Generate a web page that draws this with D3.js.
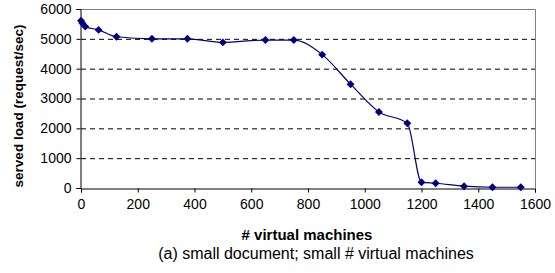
<!DOCTYPE html>
<html>
<head>
<meta charset="utf-8">
<script src="https://cdn.jsdelivr.net/npm/d3@7"></script>
<style>
  body { margin: 0; background: #fff; }
  text { font-family: "Liberation Sans", Arial, sans-serif; }
</style>
</head>
<body>
<svg id="chart" width="555" height="273"></svg>
<script>
// data
const vms = [0, 5, 15, 62, 125, 250, 375, 500, 650, 750, 850, 950, 1050, 1150, 1200, 1250, 1350, 1450, 1550]
const load = [5610, 5520, 5410, 5300, 5070, 5000, 5000, 4880, 4960, 4960, 4470, 3480, 2550, 2170, 190, 160, 60, 25, 25]
const xTicks = [0, 200, 400, 600, 800, 1000, 1200, 1400, 1600]
const yTicks = [0, 1000, 2000, 3000, 4000, 5000, 6000]

const svg = d3.select("#chart")
const mLeft = 81, mRight = 535, mTop = 9, mBottom = 188

const x = d3.scaleLinear().domain([0, 1600]).range([mLeft, mRight])
const y = d3.scaleLinear().domain([0, 6000]).range([mBottom, mTop])

// dashed gridlines
svg.append("g").selectAll("line").data(yTicks.filter(d => d > 0 && d < 6000)).enter()
    .append("line")
    .attr("x1", mLeft).attr("x2", mRight)
    .attr("y1", d => y(d) + 0.5).attr("y2", d => y(d) + 0.5)
    .attr("stroke", "#000").attr("stroke-dasharray", "5,4")

// top and right frame
svg.append("path")
    .attr("d", `M${mLeft},${mTop + 0.5}H${mRight + 0.5}V${mBottom}`)
    .attr("fill", "none").attr("stroke", "#808080")

// axes
const yAxis = d3.axisLeft(y).tickValues(yTicks).tickSize(4).tickPadding(5).tickFormat(d3.format("d"))
const xAxis = d3.axisBottom(x).tickValues(xTicks).tickSize(4).tickPadding(7).tickFormat(d3.format("d"))

const gy = svg.append("g").attr("transform", `translate(${mLeft - 0.5},0)`).call(yAxis)
const gx = svg.append("g").attr("transform", `translate(0,${mBottom + 0.5})`).call(xAxis)
;[gx, gy].forEach(g => {
    g.selectAll("path,line").attr("stroke", "#000")
    g.selectAll("text").attr("font-size", 14).attr("fill", "#000").attr("font-family", "Liberation Sans, Arial, sans-serif")
})

// smoothed line
const pts = vms.map((v, i) => [v, load[i]])
const line = d3.line().x(d => x(d[0])).y(d => y(d[1])).curve(d3.curveMonotoneX)
svg.append("path").datum(pts)
    .attr("d", line)
    .attr("fill", "none").attr("stroke", "#000080").attr("stroke-width", 1.2)

// diamond markers
const diamond = d3.symbol().type(d3.symbolDiamond2).size(40)
svg.append("g").selectAll("path").data(pts).enter()
    .append("path")
    .attr("d", diamond)
    .attr("transform", d => `translate(${x(d[0])},${y(d[1])})`)
    .attr("fill", "#000080")

// titles
svg.append("text")
    .attr("x", 307).attr("y", 240)
    .attr("text-anchor", "middle").attr("font-size", 15).attr("font-weight", "bold")
    .text("# virtual machines")

svg.append("text")
    .attr("transform", "translate(23,106) rotate(-90)")
    .attr("text-anchor", "middle").attr("font-size", 13.5).attr("font-weight", "bold")
    .text("served load (request/sec)")

svg.append("text")
    .attr("x", 316).attr("y", 259)
    .attr("text-anchor", "middle").attr("font-size", 16)
    .text("(a) small document; small # virtual machines")
</script>
</body>
</html>
